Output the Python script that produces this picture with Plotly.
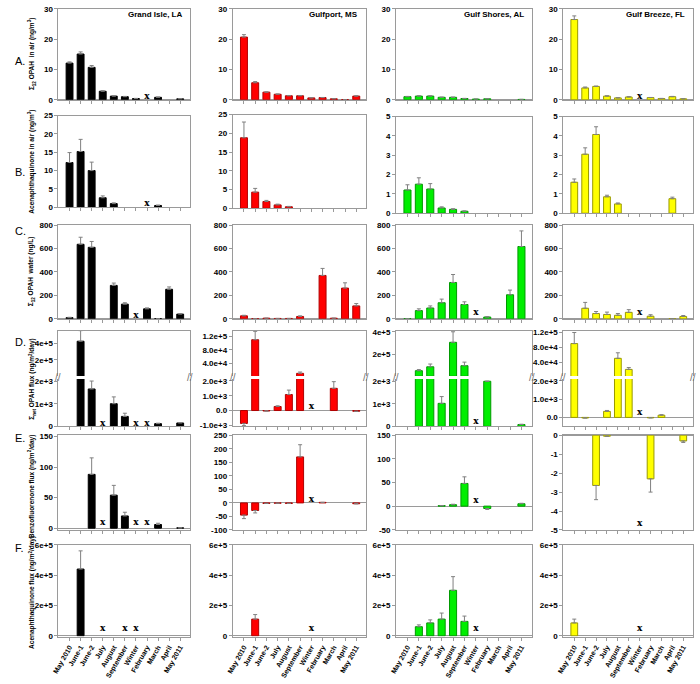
import plotly.graph_objects as go

CATS = ["May 2010", "June-1", "June-2", "July", "August", "September",
        "Winter", "February", "March", "April", "May 2011"]
SITES = ["Grand Isle, LA", "Gulfport, MS", "Gulf Shores, AL", "Gulf Breeze, FL"]
FILL = ["#000000", "#ff0000", "#00ee00", "#ffff00"]
EDGE = ["#000000", "#b00000", "#009900", "#999900"]

# ---- Row A: sum12 OPAH in air (ng/m3)
A_GI = [12.1, 15.1, 10.7, 2.8, 1.2, 1.0, 0.4, None, 0.8, None, 0.3]
A_GI_E = [0.4, 0.7, 0.6, 0.2, 0.1, 0.1, 0.05, None, 0.1, None, 0.05]
A_GP = [20.7, 5.6, 2.5, 1.8, 1.3, 1.3, 0.6, 0.7, 0.3, 0.05, 1.2]
A_GP_E = [0.8, 0.4, 0.1, 0.1, 0.1, 0.1, 0.05, 0.05, 0.05, None, 0.1]
A_GS = [1.0, 1.2, 1.2, 0.8, 0.8, 0.4, 0.2, 0.3, None, None, 0.1]
A_GS_E = [0.1, 0.1, 0.1, 0.05, 0.05, 0.05, 0.03, 0.03, None, None, 0.02]
A_GB = [26.5, 3.9, 4.4, 1.2, 0.6, 0.9, None, 0.7, 0.4, 1.0, 0.3]
A_GB_E = [1.2, 0.3, 0.1, 0.1, 0.05, 0.1, None, 0.05, 0.05, 0.1, 0.03]
A_X = [[7], [], [], [6]]
A_XV = [[0.9], [], [], [1.0]]

# ---- Row B: acenaphthaquinone in air (ng/m3)
B_GI = [12.2, 15.2, 10.0, 2.6, 1.0, None, None, None, 0.5, None, None]
B_GI_E = [2.7, 3.3, 2.3, 0.5, 0.2, None, None, None, 0.1, None, None]
B_GP = [18.8, 4.3, 1.8, 0.9, 0.4, None, None, None, None, None, None]
B_GP_E = [4.2, 1.0, 0.3, 0.2, 0.1, None, None, None, None, None, None]
B_GS = [1.2, 1.5, 1.25, 0.27, 0.2, 0.1, None, None, None, None, None]
B_GS_E = [0.27, 0.33, 0.28, 0.06, 0.03, 0.02, None, None, None, None, None]
B_GB = [1.6, 3.05, 4.07, 0.85, 0.48, None, None, None, None, 0.75, None]
B_GB_E = [0.17, 0.33, 0.4, 0.08, 0.05, None, None, None, None, 0.08, None]
B_X = [[7], [], [], []]
B_XV = [[1.0], [], [], []]

# ---- Row C: sum12 OPAH water (ng/L)
C_GI = [10, 636, 610, None, 285, 125, None, 85, 2, 252, 40]
C_GI_E = [3, 60, 50, None, 20, 12, None, 8, None, 20, 5]
C_GP = [25, 2, 5, 3, 3, 20, None, 370, 5, 262, 110]
C_GP_E = [5, None, None, None, None, 5, None, 60, None, 45, 20]
C_GS = [2, 70, 92, 137, 310, 122, None, 15, None, 205, 617]
C_GS_E = [None, 15, 18, 31, 68, 23, None, 3, None, 40, 133]
C_GB = [None, 90, 45, 37, 30, 55, None, 22, None, 2, 20]
C_GB_E = [None, 50, 17, 20, 15, 23, None, 13, None, None, 8]
C_X = [[6], [], [6], [6]]
C_XV = [[25], [], [50], [55]]

# ---- Row D: sum net OPAH flux (ng/m2/day), broken axis
D_GI = [None, 4.3e5, 1.65e3, None, 1.0e3, 440, None, None, 120, None, 150]
D_GI_E = [None, 1.3e5, 350, None, 300, 140, None, None, 20, None, 20]
D_GP = [-870, 1.1e5, -30, 270, 1.08e3, 1.0e4, None, None, 1.5e3, None, -50]
D_GP_E = [150, 2.5e4, None, 50, 300, 4e3, None, None, 450, None, None]
D_GS = [None, 5.0e4, 8.5e4, 1.02e3, 3.05e5, 9.5e4, None, 2.0e3, None, None, 80]
D_GS_E = [None, 1.0e4, 2.5e4, 300, 9.5e4, 3.2e4, None, None, None, None, 15]
D_GB = [9.0e4, -30, None, 330, 5.0e4, 2.0e4, None, -20, 120, None, None]
D_GB_E = [3.0e4, None, None, 50, 1.5e4, 5e3, None, None, 30, None, None]
D_X = [[3, 6, 7], [6], [6], [6]]
D_XV = [[130, 130, 130], [250], [200], [250]]

# ---- Row E: benzofluorenone flux (ng/m2/day)
E_GI = [None, None, 88, None, 54, 20, None, None, 6, None, 0.5]
E_GI_E = [None, None, 27, None, 16, 6, None, None, 2, None, None]
E_GP = [-45, -28, -2, -1, -2, 170, None, 2, None, None, -3]
E_GP_E = [13, 9, None, None, None, 45, None, None, None, None, None]
E_GS = [None, None, None, 1, 3, 48, None, -5, None, None, 5]
E_GS_E = [None, None, None, None, 1, 14, None, 2, None, None, 1]
E_GB = [None, None, -2.65, -0.05, None, None, None, -2.3, None, None, -0.3]
E_GB_E = [None, None, 0.75, None, None, None, None, 0.7, None, None, 0.08]
E_X = [[3, 6, 7], [6], [6], [6]]
E_XV = [[9, 9, 9], [12], [12], [-4.65]]

# ---- Row F: acenaphthaquinone flux (ng/m2/day)
F_GI = [None, 4.4e5, None, None, None, None, None, None, None, None, None]
F_GI_E = [None, 1.2e5, None, None, None, None, None, None, None, None, None]
F_GP = [None, 1.1e5, None, None, None, None, None, None, None, None, None]
F_GP_E = [None, 3.0e4, None, None, None, None, None, None, None, None, None]
F_GS = [None, 6.0e4, 8.5e4, 1.1e5, 3.0e5, 9.5e4, None, None, None, None, None]
F_GS_E = [None, 1.2e4, 2.0e4, 4.0e4, 9.0e4, 3.5e4, None, None, None, None, None]
F_GB = [8.5e4, None, None, None, None, None, None, None, None, None, None]
F_GB_E = [2.5e4, None, None, None, None, None, None, None, None, None, None]
F_X = [[3, 5, 6], [6], [6], [6]]
F_XV = [[4.5e4, 4.5e4, 4.5e4], [4.5e4], [4.5e4], [4.5e4]]

W, H = 700, 684
COL_X = [(52, 185), (228, 363), (393, 530), (562, 693)]
XR = [-1.0, 10.9]

ROWS = [
    dict(key="A", vals=[A_GI, A_GP, A_GS, A_GB], errs=[A_GI_E, A_GP_E, A_GS_E, A_GB_E],
         xi=A_X, xv=A_XV, dom=[(5, 97)] * 4, rng=[[0, 30]] * 4,
         ticks=[[0, 10, 20, 30]] * 4, text=None),
    dict(key="B", vals=[B_GI, B_GP, B_GS, B_GB], errs=[B_GI_E, B_GP_E, B_GS_E, B_GB_E],
         xi=B_X, xv=B_XV, dom=[(113, 206), (112, 207), (114, 212), (114, 212)],
         rng=[[0, 25], [0, 25], [0, 5], [0, 5]],
         ticks=[[0, 5, 10, 15, 20, 25]] * 2 + [[0, 1, 2, 3, 4, 5]] * 2, text=None),
    dict(key="C", vals=[C_GI, C_GP, C_GS, C_GB], errs=[C_GI_E, C_GP_E, C_GS_E, C_GB_E],
         xi=C_X, xv=C_XV, dom=[(224, 319)] * 4, rng=[[0, 800]] * 4,
         ticks=[[0, 200, 400, 600, 800]] * 4, text=None),
    dict(key="DU", vals=[D_GI, D_GP, D_GS, D_GB], errs=[D_GI_E, D_GP_E, D_GS_E, D_GB_E],
         xi=[[], [], [], []], xv=[[], [], [], []], dom=[(331, 377)] * 4,
         rng=[[2e3, 5.6e5], [2e3, 1.37e5], [2e3, 4.1e5], [2e3, 1.25e5]],
         ticks=[[2e5, 4e5], [4e4, 8e4, 1.2e5], [2e5, 4e5], [4e4, 8e4, 1.2e5]],
         text=[["2e+5", "4e+5"], ["4.0e+4", "8.0e+4", "1.2e+5"],
               ["2e+5", "4e+5"], ["4.0e+4", "8.0e+4", "1.2e+5"]]),
    dict(key="DL", vals=[D_GI, D_GP, D_GS, D_GB], errs=[D_GI_E, D_GP_E, D_GS_E, D_GB_E],
         xi=D_X, xv=D_XV, dom=[(380, 428)] * 4,
         rng=[[0, 2.09e3], [-1.07e3, 2.13e3], [0, 2.1e3], [-4.9e2, 2.1e3]],
         ticks=[[0, 1e3, 2e3], [-1e3, 0, 1e3, 2e3], [0, 1e3, 2e3], [0, 1e3, 2e3]],
         text=[["0", "1e+3", "2e+3"], ["-1.0e+3", "0.0", "1.0e+3", "2.0e+3"],
               ["0", "1e+3", "2e+3"], ["0.0", "1.0e+3", "2.0e+3"]]),
    dict(key="E", vals=[E_GI, E_GP, E_GS, E_GB], errs=[E_GI_E, E_GP_E, E_GS_E, E_GB_E],
         xi=E_X, xv=E_XV, dom=[(437, 533)] * 4,
         rng=[[-3, 152], [-100, 250], [-50.5, 150], [-5, 0]],
         ticks=[[0, 50, 100, 150], [-100, -50, 0, 50, 100, 150, 200, 250],
                [-50, 0, 50, 100, 150], [-5, -4, -3, -2, -1, 0]], text=None),
    dict(key="F", vals=[F_GI, F_GP, F_GS, F_GB], errs=[F_GI_E, F_GP_E, F_GS_E, F_GB_E],
         xi=F_X, xv=F_XV, dom=[(548, 641)] * 4, rng=[[-5e3, 6e5]] * 4,
         ticks=[[0, 2e5, 4e5, 6e5]] * 4,
         text=[["0", "2e+5", "4e+5", "6e+5"]] * 4),
]

FONT = "Liberation Sans, Arial, sans-serif"
GRID = "#9a9a9a"

fig = go.Figure()
layout = {}
n = 0
for row in ROWS:
    for c in range(4):
        n += 1
        xname = "x" if n == 1 else f"x{n}"
        yname = "y" if n == 1 else f"y{n}"
        xkey = "xaxis" if n == 1 else f"xaxis{n}"
        ykey = "yaxis" if n == 1 else f"yaxis{n}"
        key = row["key"]
        vals = list(row["vals"][c])
        errs = row["errs"][c]
        if key == "DU":
            lo = row["rng"][c][0]
            vals = [v if (v is not None and v > lo) else None for v in vals]
        plus, minus = [], []
        for v, e in zip(vals, errs):
            if v is None or e is None:
                plus.append(None); minus.append(None)
            elif v >= 0:
                plus.append(e); minus.append(0)
            else:
                plus.append(0); minus.append(e)
        fig.add_trace(go.Bar(
            x=list(range(len(CATS))), y=vals, width=0.62,
            marker=dict(color=FILL[c], line=dict(color=EDGE[c], width=1)),
            error_y=dict(type="data", symmetric=False, array=plus, arrayminus=minus,
                         color="#808080", thickness=1, width=2),
            xaxis=xname, yaxis=yname, showlegend=False, hoverinfo="skip"))
        if row["xi"][c]:
            fig.add_trace(go.Scatter(
                x=row["xi"][c], y=row["xv"][c], mode="text",
                text=["<b>x</b>"] * len(row["xi"][c]),
                textfont=dict(family="DejaVu Serif", size=9, color="black"),
                xaxis=xname, yaxis=yname, showlegend=False, hoverinfo="skip"))
        x0, x1 = COL_X[c]
        t, b = row["dom"][c]
        is_bottom = key == "F"
        xa = dict(domain=[x0 / W, x1 / W], range=XR, anchor=yname,
                  showline=True, linecolor=GRID, linewidth=1,
                  mirror=(key not in ("DU", "DL")),
                  side="top" if key == "DU" else "bottom",
                  ticks="" if key == "DU" else "outside", ticklen=3, tickcolor=GRID,
                  tickvals=list(range(len(CATS))),
                  ticktext=[f"<b>{s}</b>" for s in CATS] if is_bottom else [""] * len(CATS),
                  showticklabels=is_bottom, tickangle=-60,
                  tickfont=dict(family=FONT, size=7, color="black"),
                  showgrid=False, zeroline=False, fixedrange=True)
        tv = row["ticks"][c]
        tt = row["text"][c] if row["text"] else [f"{v:g}" for v in tv]
        ya = dict(domain=[1 - b / H, 1 - t / H], range=row["rng"][c], anchor=xname,
                  showline=True, linecolor=GRID, linewidth=1, mirror=True,
                  ticks="outside", ticklen=3, tickcolor=GRID,
                  tickvals=tv, ticktext=[f"<b>{s}</b>" for s in tt],
                  tickfont=dict(family=FONT, size=8, color="black"),
                  showgrid=False, zeroline=True, zerolinecolor=GRID, zerolinewidth=1,
                  fixedrange=True)
        layout[xkey] = xa
        layout[ykey] = ya

annotations = []
for c in range(4):
    annotations.append(dict(x=(COL_X[c][1] - 6) / W, y=1 - 11 / H, xref="paper", yref="paper",
                            text=f"<b>{SITES[c]}</b>", showarrow=False, xanchor="right",
                            yanchor="middle", font=dict(family=FONT, size=8, color="black")))
for lab, py in [("A.", 58), ("B.", 170), ("C.", 230), ("D.", 343), ("E.", 440), ("F.", 551)]:
    annotations.append(dict(x=6 / W, y=1 - py / H, xref="paper", yref="paper", text=lab,
                            showarrow=False, xanchor="left", yanchor="middle",
                            font=dict(family=FONT, size=11, color="black")))
YTITLES = [
    ("Σ<sub>12</sub> OPAH  in air (ng/m<sup>3</sup>)", 51),
    ("Acenaphthaquinone in air (ng/m<sup>3</sup>)", 160),
    ("Σ<sub>12</sub> OPAH  water (ng/L)", 271),
    ("Σ<sub>net</sub> OPAH flux (ng/m<sup>2</sup>/day)", 380),
    ("Benzofluorenone flux (ng/m<sup>2</sup>/day)", 489),
    ("Acenaphthaquinone flux (ng/m<sup>2</sup>/day)", 596),
]
for txt, py in YTITLES:
    annotations.append(dict(x=25 / W, y=1 - py / H, xref="paper", yref="paper", text=f"<b>{txt}</b>",
                            showarrow=False, textangle=-90, xanchor="center", yanchor="middle",
                            font=dict(family=FONT, size=6.5, color="black")))
for c in range(4):
    for px in COL_X[c]:
        annotations.append(dict(x=px / W, y=1 - 378.5 / H, xref="paper", yref="paper",
                                text="//", showarrow=False, xanchor="center", yanchor="middle",
                                font=dict(family=FONT, size=10, color="#707070")))

fig.update_layout(**layout)
fig.update_layout(width=W, height=H, margin=dict(l=0, r=0, t=0, b=0),
                  paper_bgcolor="white", plot_bgcolor="white", bargap=0,
                  annotations=annotations, font=dict(family=FONT))
fig.write_html("out.html", config={"displayModeBar": False, "staticPlot": True},
               post_script="document.body.style.margin='0px';")
